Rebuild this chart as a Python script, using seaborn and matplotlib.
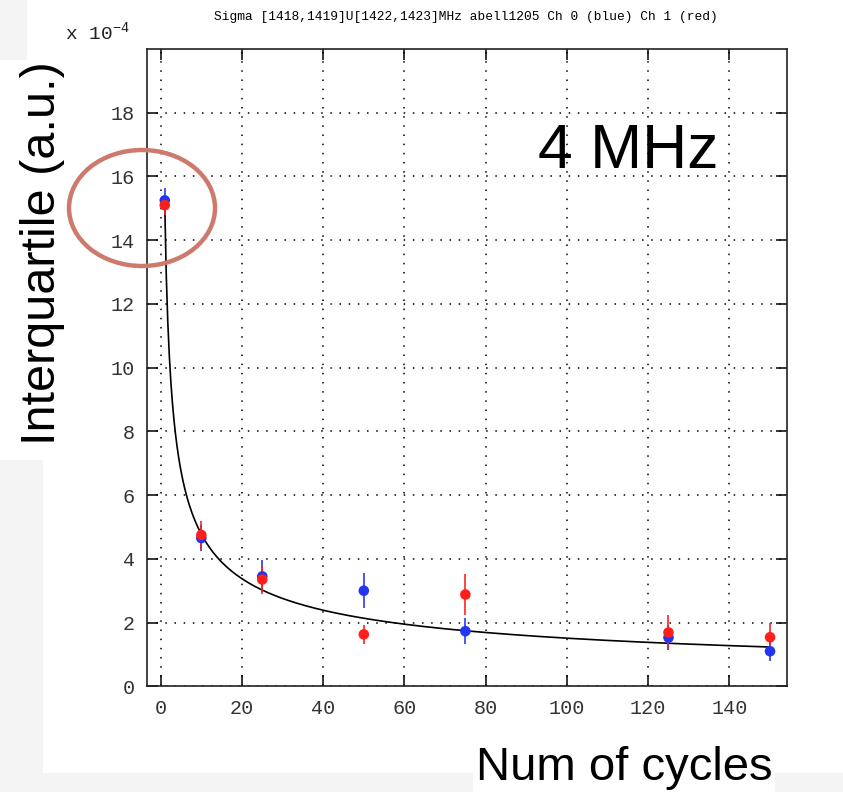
import numpy as np
import pandas as pd
import matplotlib
matplotlib.use("Agg")
import matplotlib.pyplot as plt
import seaborn as sns
from matplotlib.patches import Ellipse, Rectangle

# ---- data (units of 1e-4) ----
cycles = [1, 10, 25, 50, 75, 125, 150]
ch0_blue = [15.25, 4.65, 3.45, 3.00, 1.73, 1.53, 1.10]
ch0_err = [0.40, 0.40, 0.50, 0.55, 0.40, 0.40, 0.30]
ch1_red = [15.10, 4.75, 3.35, 1.63, 2.88, 1.69, 1.54]
ch1_err = [0.30, 0.45, 0.45, 0.30, 0.63, 0.55, 0.45]
fit_amp = 15.1      # fitted curve  y = fit_amp * x ** fit_exp
fit_exp = -0.5
x_ticks = [0, 20, 40, 60, 80, 100, 120, 140]
y_ticks = [0, 2, 4, 6, 8, 10, 12, 14, 16, 18]

BLUE = "#2335f0"
RED = "#ff1f1a"
MONO = "Liberation Mono"
SANS = "Liberation Sans"

sns.set_style("white")
plt.rcParams["font.family"] = ["DejaVu Sans"]
plt.rcParams["text.color"] = "black"

fig = plt.figure(figsize=(8.43, 7.92), dpi=100)
W, H = 843, 792
ax = fig.add_axes([147.3 / W, 1 - 686.3 / H, (786.7 - 147.3) / W, (686.3 - 49) / H])

# background slide bands
for (x0, y0, x1, y1) in [(0, 460, 43, 792), (43, 773, 843, 792), (0, 0, 27, 60)]:
    fig.add_artist(Rectangle((x0 / W, 1 - y1 / H), (x1 - x0) / W, (y1 - y0) / H,
                             transform=fig.transFigure, facecolor="#f4f4f4",
                             edgecolor="none", zorder=0))

# fit curve
xf = np.linspace(1, 150, 400)
fit_df = pd.DataFrame({"x": xf, "y": fit_amp * xf ** fit_exp})
sns.lineplot(data=fit_df, x="x", y="y", ax=ax, color="black", lw=1.2, zorder=3)

# error bars and points
df0 = pd.DataFrame({"x": cycles, "y": ch0_blue, "e": ch0_err})
df1 = pd.DataFrame({"x": cycles, "y": ch1_red, "e": ch1_err})
for df, col in [(df0, BLUE), (df1, RED)]:
    ax.errorbar(df["x"], df["y"], yerr=df["e"], fmt="none", ecolor=col,
                elinewidth=1.3, capsize=0, zorder=4, alpha=0.9)
    sns.scatterplot(data=df, x="x", y="y", ax=ax, color=col, s=58,
                    edgecolor="none", zorder=5)

ax.set_xlim(-3.3, 154.1)
ax.set_ylim(0, 20)
ax.set_xticks(x_ticks)
ax.set_yticks(y_ticks)
ax.set_xticklabels([str(v) for v in x_ticks], fontfamily=MONO, fontsize=14.5)
ax.set_yticklabels([str(v) for v in y_ticks], fontfamily=MONO, fontsize=14.5)
ax.tick_params(direction="in", length=8, width=1.1, color="black", labelcolor="#333333",
               top=True, right=True, bottom=True, left=True, pad=9)
ax.set_xlabel("")
ax.set_ylabel("")
ax.grid(True, color="black", linestyle=(0, (1, 5)), lw=1.1)
for s in ax.spines.values():
    s.set_visible(True)
    s.set_color("#222222")
    s.set_linewidth(1.2)

# texts
fig.text(466 / W, 1 - 17 / H, "Sigma [1418,1419]U[1422,1423]MHz abell1205 Ch 0 (blue) Ch 1 (red)",
         fontfamily=MONO, fontsize=9.3, ha="center", va="center", color="black")
fig.text(65 / W, 1 - 33 / H, r"x 10$^{\mathregular{-4}}$", fontfamily=MONO, fontsize=14,
         ha="left", va="center", color="#222222")
fig.text(43 / W, 1 - 253 / H, "Interquartile (a.u.)", fontfamily=SANS, fontsize=35,
         rotation=90, ha="center", va="center", color="black")
fig.text(624 / W, 1 - 768 / H, "Num of cycles", fontfamily=SANS, fontsize=34,
         ha="center", va="center", color="black",
         bbox=dict(facecolor="white", edgecolor="none", pad=2))
ax.text(628 / W, 1 - 152 / H, "4 MHz", transform=fig.transFigure, fontfamily=SANS,
        fontsize=45, ha="center", va="center", zorder=6, color="black")

# highlight ellipse
fig.add_artist(Ellipse((142 / W, 1 - 208 / H), 146 / W, 116 / H, transform=fig.transFigure,
                       facecolor="none", edgecolor="#cd7a6c", lw=3.2, zorder=10))

fig.savefig("out.png", dpi=100)
